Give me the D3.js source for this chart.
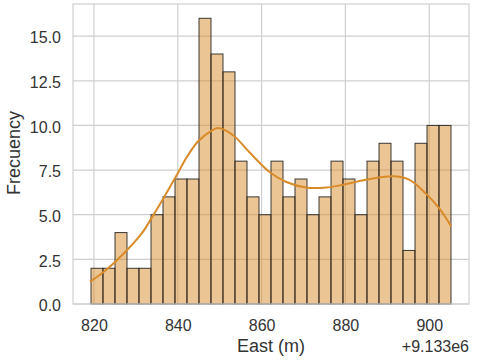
<!DOCTYPE html>
<html>
<head>
<meta charset="utf-8">
<script src="https://cdnjs.cloudflare.com/ajax/libs/d3/7.8.5/d3.min.js"></script>
<style>
  body { margin: 0; background: #ffffff; }
  text { font-family: "Liberation Sans", Arial, sans-serif; fill: #333333; }
</style>
</head>
<body>
<div id="chart"></div>
<script>
// Histogram data (East offset from 9.133e6 m)
var binStart = 819.3;
var binWidth = 2.863;
var counts = [2, 2, 4, 2, 2, 5, 6, 7, 7, 16, 14, 13, 8, 6, 5, 8, 6, 7, 5, 6, 8, 7, 5, 8, 9, 8, 3, 9, 10, 10];

// KDE curve
var kdeX = [819.05, 822.6, 827.4, 831.4, 834.1, 836.9, 839.7, 842.1, 844.8, 848.0, 849.6, 853.2, 857.1, 861.9, 865.9, 870.6, 875.4, 879.5, 884.9, 891.3, 895.2, 899.2, 902.4, 905.2];
var kdeY = [1.25, 1.85, 2.9, 3.95, 4.95, 6.05, 7.2, 8.2, 9.1, 9.7, 9.85, 9.45, 8.5, 7.39, 6.83, 6.52, 6.52, 6.68, 6.96, 7.15, 6.96, 6.18, 5.35, 4.36];

var xTicks = [820, 840, 860, 880, 900];
var yTicks = [0, 2.5, 5, 7.5, 10, 12.5, 15];
var offsetLabel = "+9.133e6";
var xLabel = "East (m)";
var yLabel = "Frecuency";

var color = "#d98b2a";

// Dimensions
var margin = {top: 4, right: 11, bottom: 56, left: 73},
    svg_dx = 480,
    svg_dy = 360,
    width  = svg_dx - margin.left - margin.right,
    height = svg_dy - margin.top - margin.bottom;

var bins = counts.map(function(c, i) {
  return {x0: binStart + i * binWidth, x1: binStart + (i + 1) * binWidth, n: c};
});

var lo = binStart, hi = binStart + counts.length * binWidth, pad = (hi - lo) * 0.05;

var xScale = d3.scaleLinear()
               .domain([lo - pad, hi + pad])
               .range([0, width]);

var yScale = d3.scaleLinear()
               .domain([0, d3.max(counts) * 1.05])
               .range([height, 0]);

var svg = d3.select("#chart")
            .append("svg")
            .attr("width", svg_dx)
            .attr("height", svg_dy)
            .append("g")
            .attr("transform", "translate(" + margin.left + "," + margin.top + ")");

// Grid lines
svg.append("g")
   .selectAll("line.gx")
   .data(xTicks)
   .enter().append("line")
   .attr("x1", function(d) { return xScale(d); })
   .attr("x2", function(d) { return xScale(d); })
   .attr("y1", 0).attr("y2", height)
   .style("stroke", "#cfcfcf").style("stroke-width", 1.2);

svg.append("g")
   .selectAll("line.gy")
   .data(yTicks)
   .enter().append("line")
   .attr("x1", 0).attr("x2", width)
   .attr("y1", function(d) { return yScale(d); })
   .attr("y2", function(d) { return yScale(d); })
   .style("stroke", "#cfcfcf").style("stroke-width", 1.2);

// Bars
svg.append("g")
   .selectAll("rect")
   .data(bins)
   .enter().append("rect")
   .attr("x", function(d) { return xScale(d.x0); })
   .attr("width", function(d) { return xScale(d.x1) - xScale(d.x0); })
   .attr("y", function(d) { return yScale(d.n); })
   .attr("height", function(d) { return height - yScale(d.n); })
   .style("fill", color)
   .style("fill-opacity", 0.5)
   .style("stroke", "#1a1a1a")
   .style("stroke-opacity", 0.85)
   .style("stroke-width", 1);

// KDE line
var line = d3.line()
             .x(function(d, i) { return xScale(kdeX[i]); })
             .y(function(d) { return yScale(d); })
             .curve(d3.curveCatmullRom);

svg.append("path")
   .datum(kdeY)
   .attr("d", line)
   .style("fill", "none")
   .style("stroke", color)
   .style("stroke-width", 2);

// Frame
svg.append("rect")
   .attr("width", width).attr("height", height)
   .style("fill", "none")
   .style("stroke", "#cfcfcf")
   .style("stroke-width", 1.2);

// Axes
var xAxis = svg.append("g")
               .attr("transform", "translate(0," + height + ")")
               .call(d3.axisBottom(xScale).tickValues(xTicks).tickSize(0).tickPadding(16));
xAxis.select(".domain").remove();
xAxis.selectAll("text").style("font-size", "16px").style("fill", "#333");

var yAxis = svg.append("g")
               .call(d3.axisLeft(yScale).tickValues(yTicks).tickSize(0).tickPadding(12).tickFormat(d3.format(".1f")));
yAxis.select(".domain").remove();
yAxis.selectAll("text").style("font-size", "16px").style("fill", "#333").attr("dy", "0.42em");

// Offset text
svg.append("text")
   .attr("x", width)
   .attr("y", height + 48)
   .style("text-anchor", "end")
   .style("font-size", "16px")
   .text(offsetLabel);

// Axis labels
svg.append("text")
   .attr("x", width / 2)
   .attr("y", height + 48)
   .style("text-anchor", "middle")
   .style("font-size", "18px")
   .text(xLabel);

svg.append("text")
   .attr("transform", "rotate(-90)")
   .attr("x", -(153 - margin.top))
   .attr("y", -53)
   .style("text-anchor", "middle")
   .style("font-size", "18px")
   .text(yLabel);
</script>
</body>
</html>
